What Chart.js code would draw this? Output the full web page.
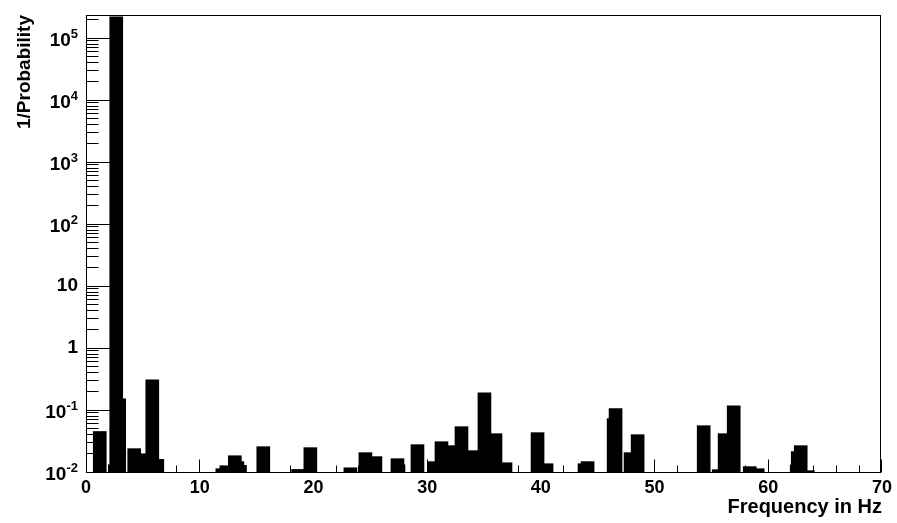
<!DOCTYPE html>
<html lang="en">
  <head>
    <meta charset="UTF-8" />
    <title>1/Probability vs Frequency</title>
    <script src="https://cdn.jsdelivr.net/npm/chart.js"></script>
    <style>
      html, body { margin: 0; padding: 0; background: #ffffff; }
      #wrap { width: 897px; height: 523px; }
    </style>
  </head>
  <body>
    <div id="wrap"><canvas id="myChart" width="897" height="523"></canvas></div>

    <script>
      // bar centres (Hz) and heights
      const freqHz = [
        1.21, 2.54, 2.66, 2.92, 4.24, 4.68, 5.83, 6.27,
        11.99, 12.34, 13.09, 13.31, 13.54, 15.59, 18.65, 19.73,
        23.25, 24.57, 25.45, 27.39, 27.48, 29.15, 30.62, 31.26,
        31.88, 33.02, 33.90, 35.04, 36.01, 36.89, 39.71, 40.50,
        43.84, 44.11, 46.40, 46.57, 47.89, 48.51,
        54.32, 55.64, 56.16, 56.96, 58.37, 59.07,
        62.50, 62.59, 62.85, 63.47
      ];
      const invProb = [
        0.045, 0.0131, 2.2e5, 0.152, 0.0238, 0.0197, 0.308, 0.016,
        0.0113, 0.0126, 0.0183, 0.0147, 0.0128, 0.0256, 0.0110, 0.0247,
        0.0117, 0.0205, 0.0177, 0.0164, 0.0131, 0.0276, 0.0147, 0.0308,
        0.0266, 0.0538, 0.0221, 0.190, 0.0415, 0.0141, 0.0431, 0.0136,
        0.0136, 0.0147, 0.0724, 0.105, 0.0205, 0.040,
        0.0558, 0.0109, 0.0415, 0.117, 0.0122, 0.0113,
        0.013, 0.0213, 0.0266, 0.0105
      ];

      // y tick labels: 10^exp
      const yDecades = [-2, -1, 0, 1, 2, 3, 4, 5];
      const yMin = 0.01;
      const yMax = 2.35e5;

      const FONT = '"Liberation Sans", Arial, sans-serif';
      Chart.defaults.font.family = FONT;
      Chart.defaults.color = "#000";

      // ROOT-style frame, inside ticks and 10^n labels
      const rootFrame = {
        id: "rootFrame",
        afterDatasetsDraw(chart) {
          const { ctx, chartArea: a, scales } = chart;
          const x = scales.x, y = scales.y;
          ctx.save();
          ctx.strokeStyle = "#000";
          ctx.lineWidth = 1;

          const L = Math.floor(a.left) + 0.5, R = Math.floor(a.right) - 0.5;
          const T = Math.floor(a.top) + 0.5, B = Math.floor(a.bottom) + 0.5;
          ctx.strokeRect(L, T, R - L, B - T);

          ctx.beginPath();
          for (let v = x.min; v <= x.max; v += 2) {
            const px = Math.floor(x.getPixelForValue(v)) + 0.5;
            const len = v % 10 === 0 ? 13 : 7;
            ctx.moveTo(px, B);
            ctx.lineTo(px, B - len);
          }
          for (let e = -2; e <= 5; e++) {
            for (let m = 1; m <= 9; m++) {
              const v = m * Math.pow(10, e);
              if (v > y.max) break;
              const py = Math.floor(y.getPixelForValue(v)) + 0.5;
              ctx.moveTo(L, py);
              ctx.lineTo(L + (m === 1 ? 24 : 12), py);
            }
          }
          ctx.stroke();

          // y labels
          ctx.fillStyle = "#000";
          ctx.textBaseline = "middle";
          ctx.textAlign = "right";
          const xr = 78;
          yDecades.forEach(e => {
            const py = y.getPixelForValue(Math.pow(10, e));
            if (e === 0 || e === 1) {
              ctx.font = "bold 19px " + FONT;
              ctx.fillText(e === 0 ? "1" : "10", xr, py);
            } else {
              const exp = String(e);
              ctx.font = "bold 13px " + FONT;
              const w = ctx.measureText(exp).width;
              ctx.fillText(exp, xr, py - 4);
              ctx.font = "bold 19px " + FONT;
              ctx.fillText("10", xr - w, py + 3);
            }
          });
          ctx.restore();
        }
      };

      const ctx = document.getElementById("myChart").getContext("2d");

      new Chart(ctx, {
        type: "bar",
        data: {
          datasets: [
            {
              data: freqHz.map((f, i) => ({ x: f, y: invProb[i] })),
              backgroundColor: "#000",
              borderWidth: 0,
              barThickness: 13
            }
          ]
        },
        options: {
          responsive: false,
          animation: false,
          layout: { padding: { top: 15, right: 15, left: 0, bottom: 0 } },
          plugins: { legend: { display: false }, tooltip: { enabled: false } },
          scales: {
            x: {
              type: "linear",
              min: 0,
              max: 70,
              offset: false,
              grid: { display: false, drawTicks: false, offset: false },
              border: { display: false },
              ticks: { stepSize: 10, padding: 5, font: { size: 18, weight: "bold" } },
              title: {
                display: true,
                text: "Frequency in Hz",
                align: "end",
                font: { size: 20, weight: "bold" },
                padding: { top: 0, bottom: 4 }
              },
              afterFit: s => { s.height = 51; }
            },
            y: {
              type: "logarithmic",
              min: yMin,
              max: yMax,
              grid: { display: false, drawTicks: false },
              border: { display: false },
              ticks: { display: false },
              title: {
                display: true,
                text: "1/Probability",
                align: "end",
                font: { size: 19, weight: "bold" },
                padding: { top: 13, bottom: 0 }
              },
              afterFit: s => { s.width = 86; }
            }
          }
        },
        plugins: [rootFrame]
      });
    </script>
  </body>
</html>
